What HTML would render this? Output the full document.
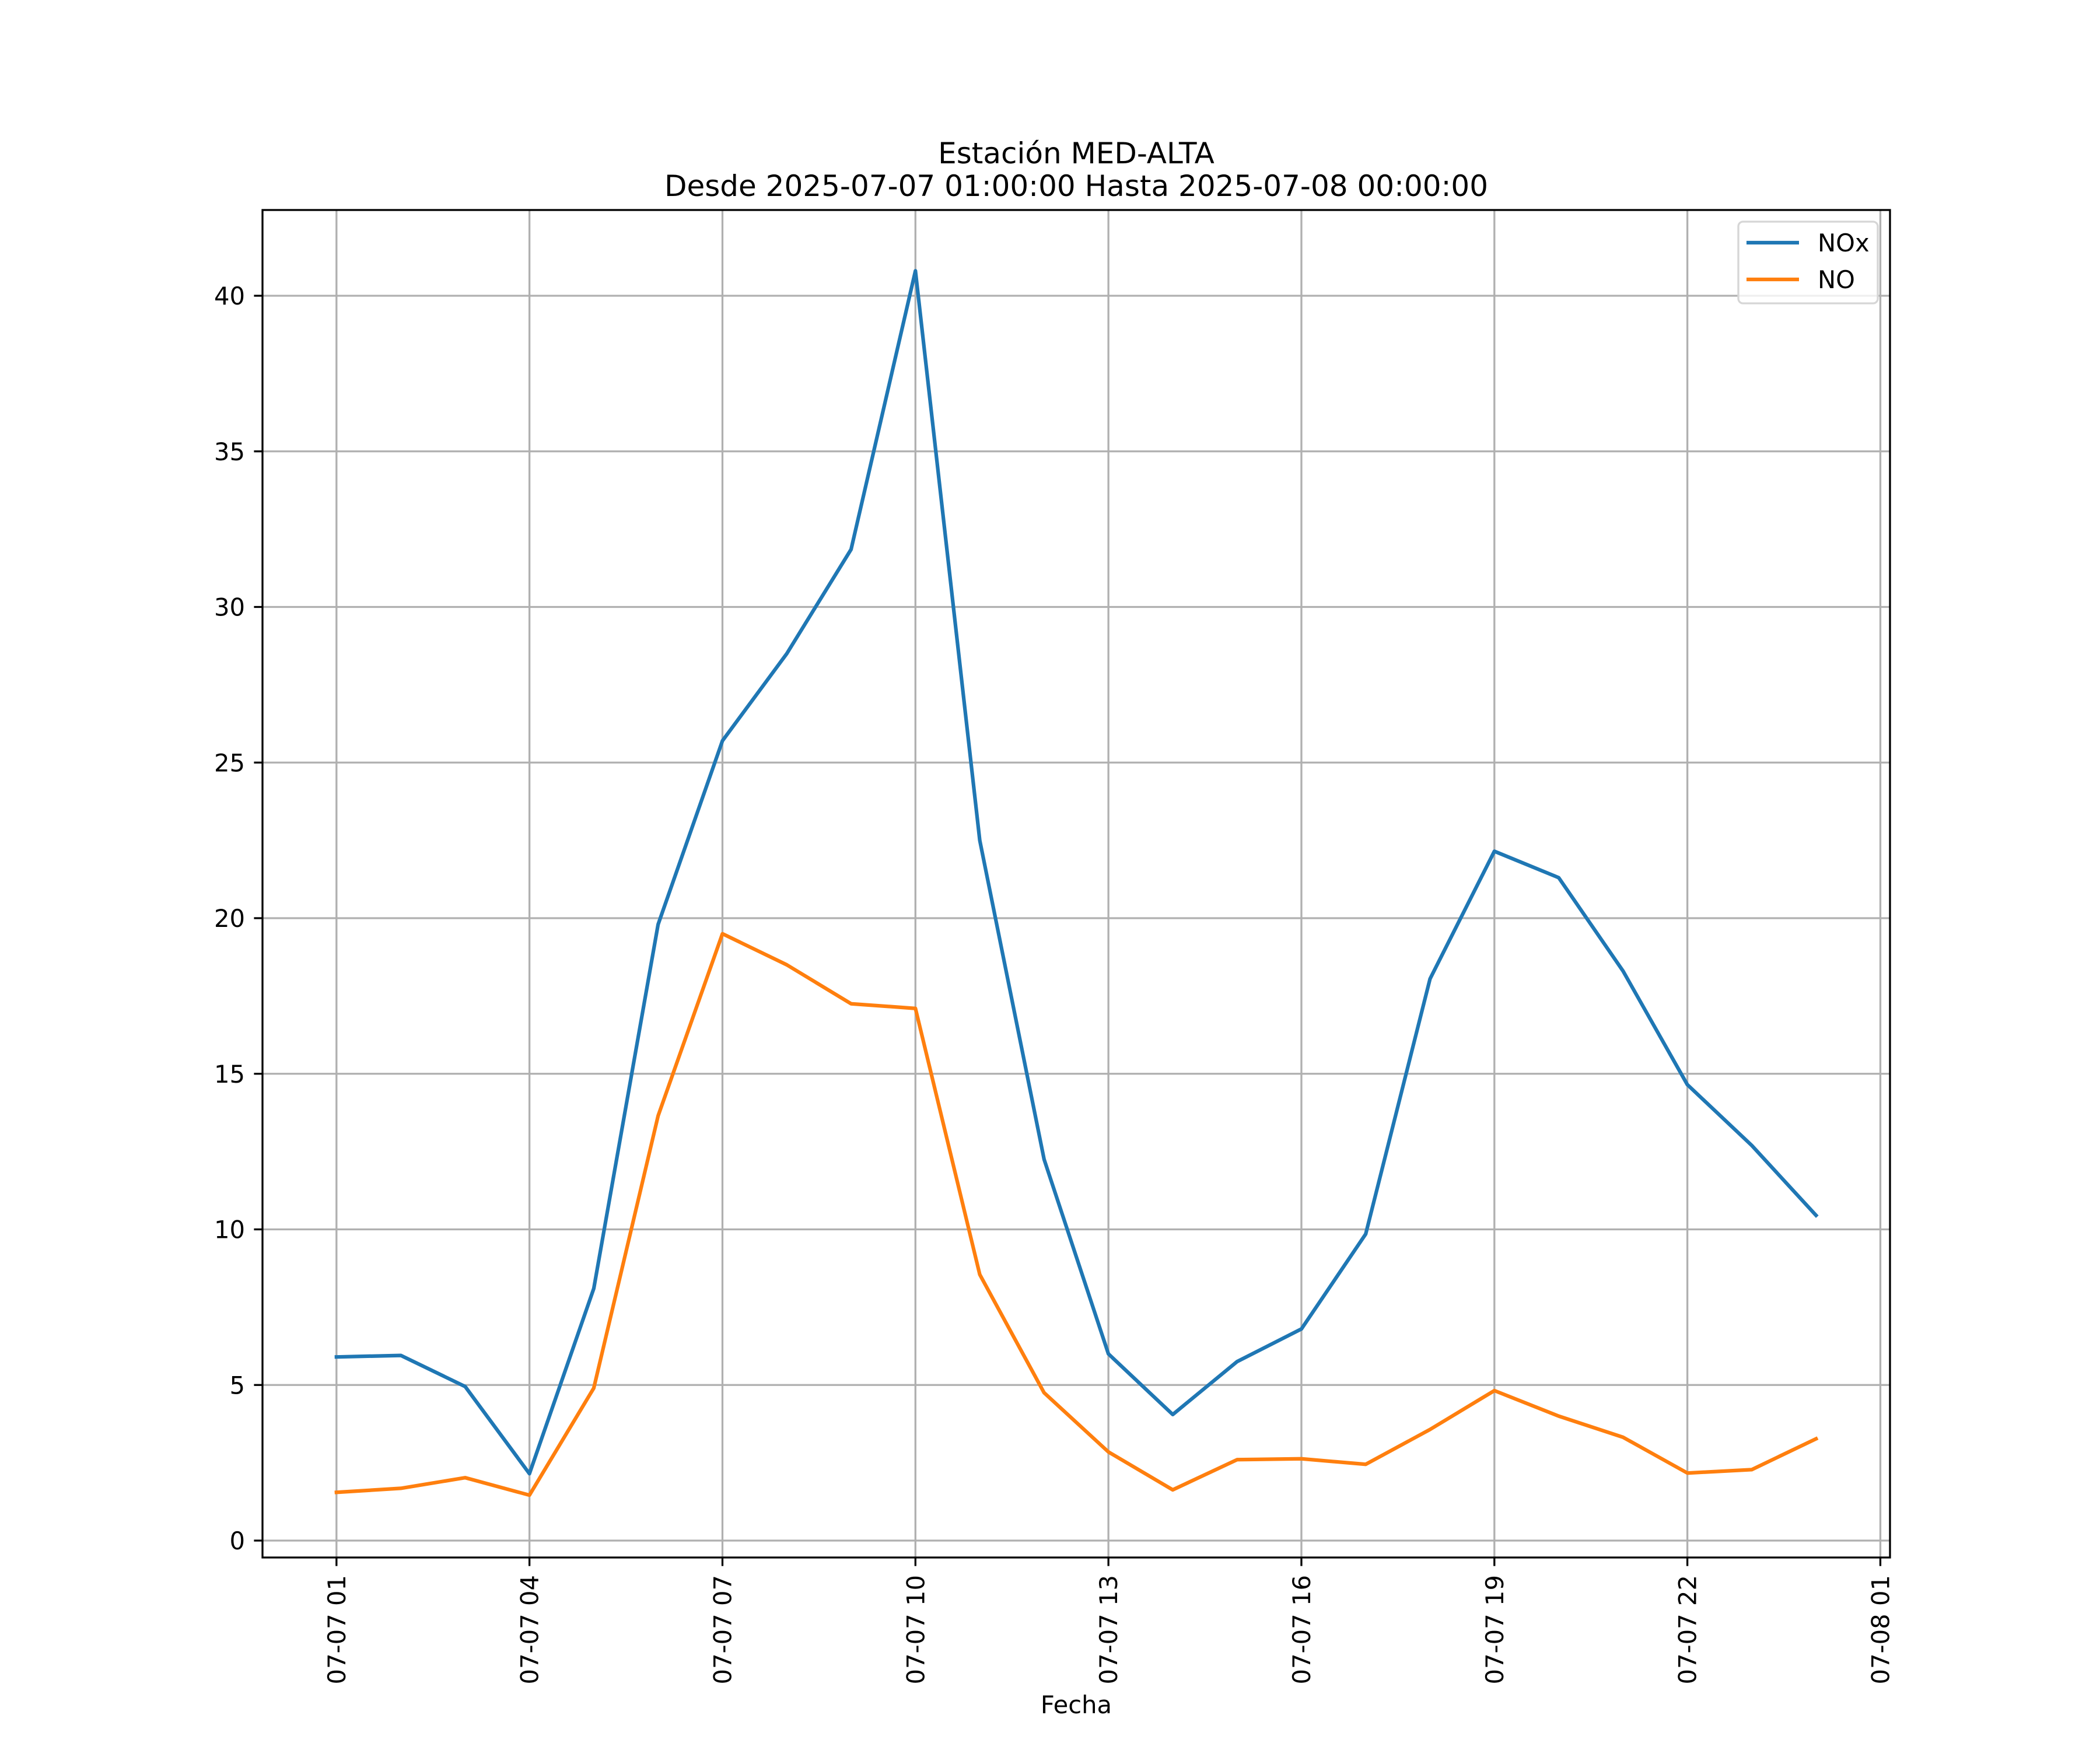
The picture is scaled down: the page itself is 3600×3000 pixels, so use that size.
<!DOCTYPE html>
<html><head><meta charset="utf-8"><style>
html,body{margin:0;padding:0;background:#fff;}
svg{display:block;font-family:"DejaVu Sans","Liberation Sans",sans-serif;}
</style></head><body>
<svg id="chart" width="3600" height="3000" viewBox="0 0 3600 3000" xmlns="http://www.w3.org/2000/svg">
<rect width="3600" height="3000" fill="#fff"/>
<text x="1845" y="280" font-size="50" text-anchor="middle">Estación MED-ALTA</text>
<text x="1845" y="336" font-size="50" text-anchor="middle">Desde 2025-07-07 01:00:00 Hasta 2025-07-08 00:00:00</text>
<g id="grid"></g>
<g id="series"></g>
<rect x="450" y="360" width="2790" height="2310" fill="none" stroke="#000" stroke-width="3.3"/>
<g id="ticks"></g>
<text x="1845" y="2937" font-size="41.7" text-anchor="middle">Fecha</text>
<g>
<rect x="2980" y="380" width="239" height="140" rx="8" fill="#fff" fill-opacity="0.8" stroke="#d6d6d6" stroke-width="3.3"/>
<line x1="2994" y1="416" x2="3084" y2="416" stroke="#1f77b4" stroke-width="6.25"/>
<text x="3116" y="431" font-size="41.7">NOx</text>
<line x1="2994" y1="479" x2="3084" y2="479" stroke="#ff7f0e" stroke-width="6.25"/>
<text x="3116" y="494" font-size="41.7">NO</text>
</g>
</svg>
<script>
const hours = [1,2,3,4,5,6,7,8,9,10,11,12,13,14,15,16,17,18,19,20,21,22,23,24];
const noxValues = [5.9,5.95,4.95,2.15,8.1,19.8,25.7,28.5,31.85,40.8,22.5,12.25,6.0,4.05,5.75,6.8,9.85,18.05,22.15,21.3,18.3,14.65,12.7,10.45];
const noValues = [1.55,1.68,2.02,1.46,4.9,13.65,19.5,18.5,17.25,17.1,8.55,4.75,2.85,1.63,2.6,2.63,2.45,3.57,4.82,4.0,3.32,2.17,2.28,3.27];
const yTicks = [0,5,10,15,20,25,30,35,40];
const xTickHours = [1,4,7,10,13,16,19,22,25];
const xTickLabels = ["07-07 01","07-07 04","07-07 07","07-07 10","07-07 13","07-07 16","07-07 19","07-07 22","07-08 01"];

const NS = "http://www.w3.org/2000/svg";
const L=450,R=3240,T=360,B=2670;
const xMin=hours[0]-(hours[hours.length-1]-hours[0])*0.05;
const xMax=hours[hours.length-1]+(hours[hours.length-1]-hours[0])*0.05;
function xs(h){return L+(h-xMin)/(xMax-xMin)*(R-L);}
function ys(v){return 2641-v*53.35;}
function mk(tag,attrs,parent){const e=document.createElementNS(NS,tag);for(const k in attrs)e.setAttribute(k,attrs[k]);parent.appendChild(e);return e;}
const grid=document.getElementById('grid'),ticks=document.getElementById('ticks'),series=document.getElementById('series');
yTicks.forEach(v=>{
  const y=ys(v);
  const g=mk('line',{x1:L,x2:R,y1:y,y2:y,stroke:'#b0b0b0','stroke-width':3.3},grid);
  
  
  const t=mk('line',{x1:L-14.6,x2:L,y1:y,y2:y,stroke:'#000','stroke-width':3.3},ticks);
  
  
  const tx=mk('text',{x:L-30,y:y+15,'font-size':41.7,'text-anchor':'end'},ticks);
  tx.textContent=String(v);
  
  
});
xTickHours.forEach((h,i)=>{
  const x=xs(h);
  const g=mk('line',{x1:x,x2:x,y1:T,y2:B,stroke:'#b0b0b0','stroke-width':3.3},grid);
  
  
  const t=mk('line',{x1:x,x2:x,y1:B,y2:B+14.6,stroke:'#000','stroke-width':3.3},ticks);
  
  
  const tx=mk('text',{x:0,y:0,'font-size':41.7,'text-anchor':'end',transform:`translate(${x+15},2700) rotate(-90)`},ticks);
  tx.textContent=xTickLabels[i];
  
  
});
function drawLine(vals,color,name){
  const pts=hours.map((h,i)=>xs(h).toFixed(1)+','+ys(vals[i]).toFixed(1)).join(' ');
  const p=mk('polyline',{points:pts,fill:'none',stroke:color,'stroke-width':6.25,'stroke-linejoin':'round','stroke-linecap':'square'},series);
  
  
}
drawLine(noxValues,'#1f77b4','nox-line');
drawLine(noValues,'#ff7f0e','no-line');
</script>
</body></html>
